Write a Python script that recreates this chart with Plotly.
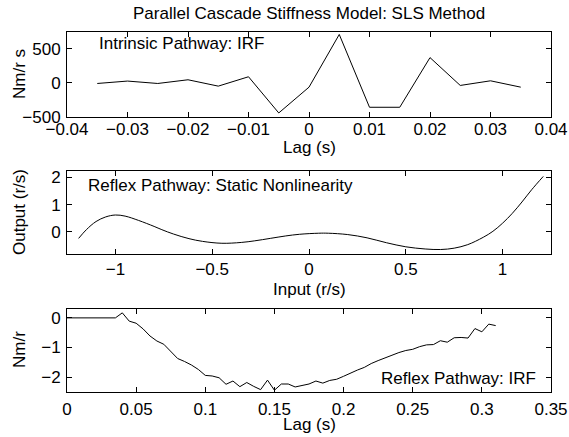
import plotly.graph_objects as go

W, H = 569, 437

# ---- data ----
intrinsic_lag = [-0.035, -0.03, -0.025, -0.02, -0.015, -0.01, -0.005, 0.0,
                 0.005, 0.01, 0.015, 0.02, 0.025, 0.03, 0.035]
intrinsic_irf = [-10, 25, -10, 44, -49, 88, -441, -64,
                 706, -358, -358, 368, -39, 29, -64]

nl_input = [-1.19, -1.15, -1.10, -1.05, -1.00, -0.95, -0.88, -0.80, -0.76, -0.70,
            -0.62, -0.55, -0.45, -0.35, -0.28, -0.20, -0.12, -0.05, 0.05, 0.10,
            0.20, 0.30, 0.40, 0.50, 0.60, 0.68, 0.75, 0.82, 0.90, 0.95,
            1.00, 1.05, 1.10, 1.15, 1.21]
nl_output = [-0.24, 0.08, 0.38, 0.55, 0.62, 0.58, 0.42, 0.20, 0.08, -0.08,
             -0.25, -0.35, -0.42, -0.39, -0.33, -0.24, -0.15, -0.09, -0.05, -0.05,
             -0.10, -0.22, -0.40, -0.55, -0.63, -0.65, -0.60, -0.47, -0.20, 0.02,
             0.32, 0.68, 1.10, 1.55, 2.04]

reflex_lag = [0.0, 0.005, 0.01, 0.015, 0.02, 0.025, 0.03, 0.035, 0.04, 0.045,
              0.05, 0.055, 0.06, 0.065, 0.07, 0.075, 0.08, 0.085, 0.09, 0.095,
              0.1, 0.105, 0.11, 0.115, 0.12, 0.125, 0.13, 0.135, 0.14, 0.145,
              0.15, 0.155, 0.16, 0.165, 0.17, 0.175, 0.18, 0.185, 0.19, 0.195,
              0.2, 0.205, 0.21, 0.215, 0.22, 0.225, 0.23, 0.235, 0.24, 0.245,
              0.25, 0.255, 0.26, 0.265, 0.27, 0.275, 0.28, 0.285, 0.29, 0.295,
              0.3, 0.305, 0.31]
reflex_irf = [0, 0, 0, 0, 0, 0, 0, 0, 0.17, -0.11,
              -0.18, -0.37, -0.61, -0.78, -0.89, -1.13, -1.37, -1.47, -1.59, -1.74,
              -1.94, -1.96, -2.02, -2.24, -2.13, -2.32, -2.18, -2.31, -2.42, -2.10,
              -2.44, -2.23, -2.23, -2.33, -2.28, -2.23, -2.13, -2.20, -2.11, -2.07,
              -1.97, -1.86, -1.76, -1.67, -1.54, -1.44, -1.34, -1.26, -1.17, -1.10,
              -1.06, -0.97, -0.91, -0.90, -0.77, -0.82, -0.67, -0.66, -0.68, -0.36,
              -0.47, -0.21, -0.26]

x1_ticks = [-0.04, -0.03, -0.02, -0.01, 0, 0.01, 0.02, 0.03, 0.04]
x1_labels = ["\u22120.04", "\u22120.03", "\u22120.02", "\u22120.01", "0", "0.01", "0.02", "0.03", "0.04"]
y1_ticks = [-500, 0, 500]
y1_labels = ["\u2212500", "0", "500"]
x2_ticks = [-1, -0.5, 0, 0.5, 1]
x2_labels = ["\u22121", "\u22120.5", "0", "0.5", "1"]
y2_ticks = [0, 1, 2]
y2_labels = ["0", "1", "2"]
x3_ticks = [0, 0.05, 0.1, 0.15, 0.2, 0.25, 0.3, 0.35]
x3_labels = ["0", "0.05", "0.1", "0.15", "0.2", "0.25", "0.3", "0.35"]
y3_ticks = [-2, -1, 0]
y3_labels = ["\u22122", "\u22121", "0"]

FONT = "Liberation Sans, Arial, Helvetica, sans-serif"
FS = 17

def px_x(x):
    return x / W

def px_y(y):
    return 1 - y / H

XL, XR = 67, 551
boxes = [(32, 117), (171, 254), (309, 392)]

fig = go.Figure()
line = dict(color="black", width=1)
fig.add_trace(go.Scatter(x=intrinsic_lag, y=intrinsic_irf, mode="lines", line=line, xaxis="x", yaxis="y"))
fig.add_trace(go.Scatter(x=nl_input, y=nl_output, mode="lines", line=dict(color="black", width=1, shape="spline", smoothing=1.0), xaxis="x2", yaxis="y2"))
fig.add_trace(go.Scatter(x=reflex_lag, y=reflex_irf, mode="lines", line=line, xaxis="x3", yaxis="y3"))

def ax(dom, rng, tv, tt, anchor, standoff):
    return dict(domain=dom, range=rng, tickvals=tv, ticktext=tt, anchor=anchor,
                showline=True, linecolor="black", linewidth=1, mirror="ticks",
                ticks="inside", ticklen=5, tickwidth=1, tickcolor="black",
                showgrid=False, zeroline=False, ticklabelstandoff=standoff,
                automargin=False, tickangle=0,
                tickfont=dict(family=FONT, size=FS, color="black"))

xdom = [px_x(XL), px_x(XR)]
ydoms = [[px_y(b), px_y(t)] for (t, b) in boxes]

fig.update_layout(
    width=W, height=H,
    margin=dict(l=0, r=0, t=0, b=0, autoexpand=False),
    paper_bgcolor="white", plot_bgcolor="white",
    showlegend=False,
    xaxis=ax(xdom, [-0.04, 0.04], x1_ticks, x1_labels, "y", -3),
    yaxis=ax(ydoms[0], [-500, 742], y1_ticks, y1_labels, "x", 2),
    xaxis2=ax(xdom, [-1.25, 1.25], x2_ticks, x2_labels, "y2", 0),
    yaxis2=ax(ydoms[1], [-0.815, 2.24], y2_ticks, y2_labels, "x2", 2),
    xaxis3=ax(xdom, [0, 0.35], x3_ticks, x3_labels, "y3", 2),
    yaxis3=ax(ydoms[2], [-2.5, 0.3], y3_ticks, y3_labels, "x3", 2),
)

def note(text, x, y, xanchor="center", angle=0):
    fig.add_annotation(text=text, x=px_x(x), y=px_y(y), xref="paper", yref="paper",
                       xanchor=xanchor, yanchor="middle", showarrow=False, textangle=angle,
                       font=dict(family=FONT, size=FS, color="black"))

note("Parallel Cascade Stiffness Model: SLS Method", 309, 13)
note("Intrinsic Pathway: IRF", 97, 43, xanchor="left")
note("Reflex Pathway: Static Nonlinearity", 86, 186, xanchor="left")
note("Reflex Pathway: IRF", 379, 378, xanchor="left")
note("Lag (s)", 309, 147)
note("Input (r/s)", 309, 289)
note("Lag (s)", 309, 424)
note("Nm/r s", 19, 74, angle=-90)
note("Output (r/s)", 19, 212, angle=-90)
note("Nm/r", 19, 350, angle=-90)

fig.write_html("out.html", config={"displayModeBar": False},
               post_script="document.body.style.margin='0';document.body.style.padding='0';document.body.style.overflow='hidden';")
